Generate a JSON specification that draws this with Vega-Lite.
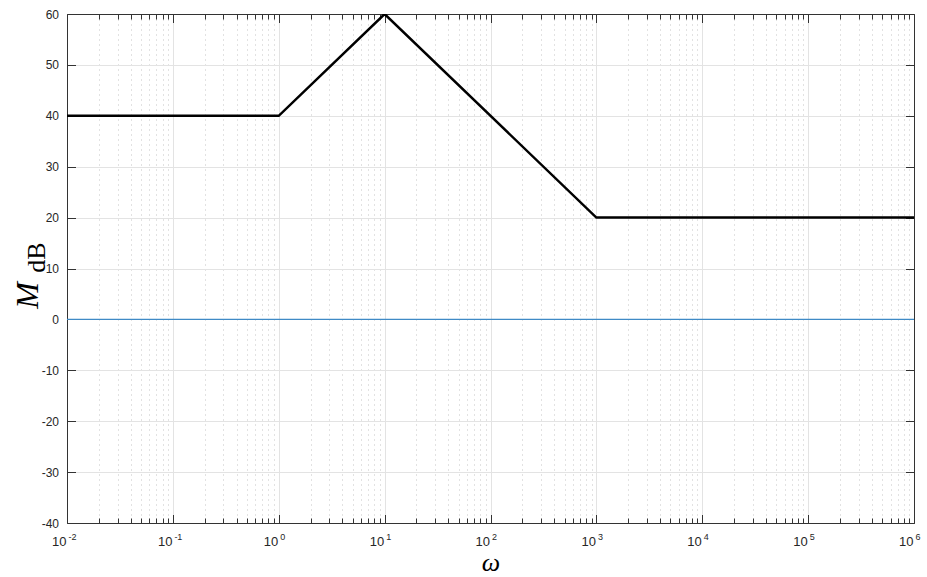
{
  "$schema": "https://vega.github.io/schema/vega-lite/v6.json",
  "width": 847,
  "height": 509,
  "autosize": {"type": "none"},
  "padding": {"left": 67, "top": 14, "right": 13, "bottom": 54},
  "background": "white",
  "config": {
    "view": {"stroke": null},
    "axis": {
      "labelFont": "Liberation Sans",
      "labelFontSize": 12,
      "labelColor": "#262626",
      "domainColor": "#333333",
      "tickColor": "#333333",
      "domainWidth": 1,
      "tickWidth": 1
    }
  },
  "data": {
    "values": [
      {"w": 0.01, "m": 40, "series": "asym"},
      {"w": 1, "m": 40, "series": "asym"},
      {"w": 10, "m": 60, "series": "asym"},
      {"w": 1000, "m": 20, "series": "asym"},
      {"w": 1000000, "m": 20, "series": "asym"},
      {"w": 0.01, "m": 0, "series": "zero"},
      {"w": 1000000, "m": 0, "series": "zero"}
    ]
  },
  "resolve": {"axis": {"x": "independent", "y": "independent"}},
  "layer": [
    {
      "transform": [{"filter": "datum.series == 'zero'"}],
      "mark": {"type": "line", "color": "#3f8ac6", "strokeWidth": 1.2, "clip": true},
      "encoding": {
        "x": {
          "field": "w", "type": "quantitative",
          "scale": {"type": "log", "domain": [0.01, 1000000], "nice": false},
          "axis": {
            "orient": "bottom",
            "values": [0.02,0.03,0.04,0.05,0.06,0.07,0.08,0.09,0.2,0.3,0.4,0.5,0.6,0.7,0.8,0.9,2,3,4,5,6,7,8,9,20,30,40,50,60,70,80,90,200,300,400,500,600,700,800,900,2000,3000,4000,5000,6000,7000,8000,9000,20000,30000,40000,50000,60000,70000,80000,90000,200000,300000,400000,500000,600000,700000,800000,900000],
            "labels": false, "domain": false, "title": null,
            "tickSize": -5,
            "grid": true, "gridDash": [1, 4], "gridColor": "#c4c4c4", "gridWidth": 1
          }
        },
        "y": {
          "field": "m", "type": "quantitative",
          "scale": {"domain": [-40, 60], "nice": false, "zero": false},
          "axis": {
            "orient": "right",
            "values": [-40,-30,-20,-10,0,10,20,30,40,50,60],
            "labels": false, "grid": false, "title": null,
            "tickSize": -8.5
          }
        }
      }
    },
    {
      "transform": [{"filter": "datum.series == 'asym'"}],
      "mark": {"type": "line", "color": "#000000", "strokeWidth": 2.5, "clip": true},
      "encoding": {
        "x": {
          "field": "w", "type": "quantitative",
          "scale": {"type": "log", "domain": [0.01, 1000000], "nice": false},
          "axis": {
            "orient": "bottom",
            "values": [0.01,0.1,1,10,100,1000,10000,100000,1000000],
            "labelExpr": "'10'",
            "labelAlign": "right",
            "labelOffset": -1,
            "labelFontSize": 13,
            "labelPadding": 21,
            "labelFlush": false,
            "labelOverlap": false,
            "tickSize": -8.5,
            "grid": true, "gridColor": "#e3e3e3", "gridWidth": 1,
            "title": "ω",
            "titleFont": "Liberation Serif", "titleFontStyle": "italic",
            "titleFontWeight": "normal", "titleFontSize": 26, "titleColor": "#000000",
            "titleBaseline": "alphabetic", "titleY": 47
          }
        },
        "y": {
          "field": "m", "type": "quantitative",
          "scale": {"domain": [-40, 60], "nice": false, "zero": false},
          "axis": {
            "orient": "left",
            "values": [-40,-30,-20,-10,0,10,20,30,40,50,60],
            "labelExpr": "'' + datum.value",
            "labelPadding": 17,
            "tickSize": -8.5,
            "grid": true, "gridColor": "#e3e3e3", "gridWidth": 1,
            "title": "M",
            "titleFont": "Liberation Serif", "titleFontStyle": "italic",
            "titleFontWeight": "normal", "titleFontSize": 32, "titleColor": "#000000",
            "titleBaseline": "alphabetic", "titleAlign": "center", "titleAngle": -90,
            "titleX": -30, "titleY": 281
          }
        }
      }
    },
    {
      "transform": [{"filter": "datum.series == 'asym'"}],
      "mark": {"type": "line", "opacity": 0},
      "encoding": {
        "x": {
          "field": "w", "type": "quantitative",
          "scale": {"type": "log", "domain": [0.01, 1000000], "nice": false},
          "axis": {
            "orient": "top",
            "values": [0.01,0.1,1,10,100,1000,10000,100000,1000000],
            "labels": false, "grid": false, "title": null,
            "tickSize": -8.5
          }
        },
        "y": {
          "field": "m", "type": "quantitative",
          "scale": {"domain": [-40, 60], "nice": false, "zero": false},
          "axis": {
            "orient": "left",
            "labels": false, "ticks": false, "domain": false, "grid": false,
            "title": "dB",
            "titleFont": "Liberation Serif", "titleFontStyle": "normal",
            "titleFontWeight": "normal", "titleFontSize": 26, "titleColor": "#000000",
            "titleBaseline": "alphabetic", "titleAlign": "center", "titleAngle": -90,
            "titleX": -23, "titleY": 243
          }
        }
      }
    },
    {
      "transform": [{"filter": "datum.series == 'asym'"}],
      "mark": {"type": "line", "opacity": 0},
      "encoding": {
        "x": {
          "field": "w", "type": "quantitative",
          "scale": {"type": "log", "domain": [0.01, 1000000], "nice": false},
          "axis": {
            "orient": "top",
            "values": [0.02,0.03,0.04,0.05,0.06,0.07,0.08,0.09,0.2,0.3,0.4,0.5,0.6,0.7,0.8,0.9,2,3,4,5,6,7,8,9,20,30,40,50,60,70,80,90,200,300,400,500,600,700,800,900,2000,3000,4000,5000,6000,7000,8000,9000,20000,30000,40000,50000,60000,70000,80000,90000,200000,300000,400000,500000,600000,700000,800000,900000],
            "labels": false, "domain": false, "grid": false, "title": null,
            "tickSize": -5
          }
        },
        "y": {
          "field": "m", "type": "quantitative",
          "scale": {"domain": [-40, 60], "nice": false, "zero": false},
          "axis": null
        }
      }
    },
    {
      "transform": [{"filter": "datum.series == 'asym'"}],
      "mark": {"type": "line", "opacity": 0},
      "encoding": {
        "x": {
          "field": "w", "type": "quantitative",
          "scale": {"type": "log", "domain": [0.01, 1000000], "nice": false},
          "axis": {
            "orient": "bottom",
            "values": [0.01,0.1,1,10,100,1000,10000,100000,1000000],
            "labelExpr": "datum.value < 0.05 ? '-2' : datum.value < 0.5 ? '-1' : datum.value < 5 ? '0' : datum.value < 50 ? '1' : datum.value < 500 ? '2' : datum.value < 5000 ? '3' : datum.value < 50000 ? '4' : datum.value < 500000 ? '5' : '6'",
            "labelAlign": "left",
            "labelOffset": 1,
            "labelFontSize": 9,
            "labelPadding": 9,
            "labelFlush": false,
            "labelOverlap": false,
            "ticks": false, "domain": false, "grid": false, "title": null
          }
        },
        "y": {
          "field": "m", "type": "quantitative",
          "scale": {"domain": [-40, 60], "nice": false, "zero": false},
          "axis": null
        }
      }
    }
  ]
}
